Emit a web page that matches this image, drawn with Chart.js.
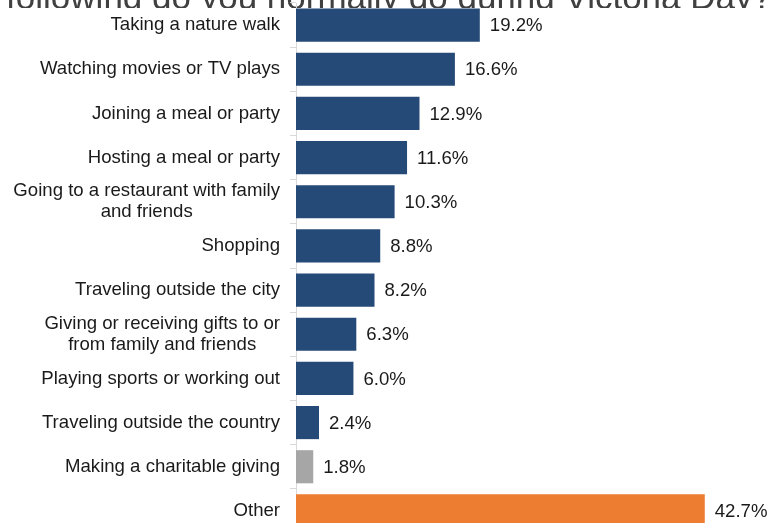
<!DOCTYPE html>
<html>
<head>
<meta charset="utf-8">
<script src="https://cdn.jsdelivr.net/npm/chart.js@4.4.1/dist/chart.umd.min.js"></script>
<style>
  html, body { margin: 0; padding: 0; background: #fff; overflow: hidden; }
  #wrap { position: relative; width: 767px; height: 540px; }
</style>
</head>
<body>
<div id="wrap"><canvas id="chart"></canvas></div>
<script>
const titleText = "Which of the following do you normally do during Victoria Day?";

const activities = [
  ["Taking a nature walk"],
  ["Watching movies or TV plays"],
  ["Joining a meal or party"],
  ["Hosting a meal or party"],
  ["Going to a restaurant with family", "and friends"],
  ["Shopping"],
  ["Traveling outside the city"],
  ["Giving or receiving gifts to or", "from family and friends"],
  ["Playing sports or working out"],
  ["Traveling outside the country"],
  ["Making a charitable giving"],
  ["Other"]
];

const shares = [19.2, 16.6, 12.9, 11.6, 10.3, 8.8, 8.2, 6.3, 6.0, 2.4, 1.8, 42.7];

const barColors = [
  "#264a78", "#264a78", "#264a78", "#264a78", "#264a78", "#264a78",
  "#264a78", "#264a78", "#264a78", "#264a78", "#a6a6a6", "#ed7d31"
];

const FONT = "Liberation Sans, Arial, sans-serif";

// category labels: right edge at the axis, wrapped lines centred on each other
const sideLabels = {
  id: "sideLabels",
  afterDraw(chart) {
    const { ctx } = chart;
    const y = chart.scales.y;
    const right = chart.chartArea.left - 16;
    const lineH = 21;
    ctx.save();
    ctx.font = "18.6px " + FONT;
    ctx.fillStyle = "#1a1a1a";
    ctx.textBaseline = "middle";
    ctx.textAlign = "center";
    activities.forEach((lines, i) => {
      const cy = y.getPixelForValue(i);
      const w = Math.max(...lines.map(l => ctx.measureText(l).width));
      const cx = right - w / 2;
      const top = cy - (lines.length - 1) * lineH / 2;
      lines.forEach((l, j) => ctx.fillText(l, cx, top + j * lineH));
    });
    ctx.restore();
  }
};

// percentage next to the end of every bar
const valueLabels = {
  id: "valueLabels",
  afterDatasetsDraw(chart) {
    const { ctx } = chart;
    const meta = chart.getDatasetMeta(0);
    ctx.save();
    ctx.font = "18.6px " + FONT;
    ctx.fillStyle = "#1a1a1a";
    ctx.textBaseline = "middle";
    ctx.textAlign = "left";
    meta.data.forEach((bar, i) => {
      ctx.fillText(shares[i].toFixed(1) + "%", bar.x + 10, bar.y + 1);
    });
    ctx.restore();
  }
};

// question heading; only a thin strip of it shows above the plot
const heading = {
  id: "heading",
  beforeDraw(chart) {
    const { ctx } = chart;
    ctx.save();
    ctx.beginPath();
    ctx.rect(0, 0, chart.width, 8);
    ctx.clip();
    ctx.font = "35px " + FONT;
    ctx.fillStyle = "#404040";
    ctx.textAlign = "right";
    ctx.textBaseline = "alphabetic";
    ctx.fillText(titleText, 772, 9);
    ctx.restore();
  }
};

new Chart(document.getElementById("chart"), {
  type: "bar",
  data: {
    labels: activities,
    datasets: [{
      data: shares,
      backgroundColor: barColors,
      borderWidth: 0,
      barPercentage: 0.75,
      categoryPercentage: 1
    }]
  },
  options: {
    indexAxis: "y",
    responsive: true,
    maintainAspectRatio: false,
    animation: false,
    layout: { padding: { left: 290, top: 3, bottom: 7, right: 0 } },
    plugins: {
      legend: { display: false },
      tooltip: { enabled: false }
    },
    scales: {
      x: {
        display: false,
        min: 0,
        max: 49.2
      },
      y: {
        offset: true,
        border: { display: true, color: "#d9d9d9", width: 1 },
        grid: {
          display: true,
          offset: true,
          drawOnChartArea: false,
          drawTicks: true,
          tickLength: 6,
          color: "#d9d9d9"
        },
        ticks: { display: false }
      }
    }
  },
  plugins: [heading, sideLabels, valueLabels]
});
</script>
</body>
</html>
